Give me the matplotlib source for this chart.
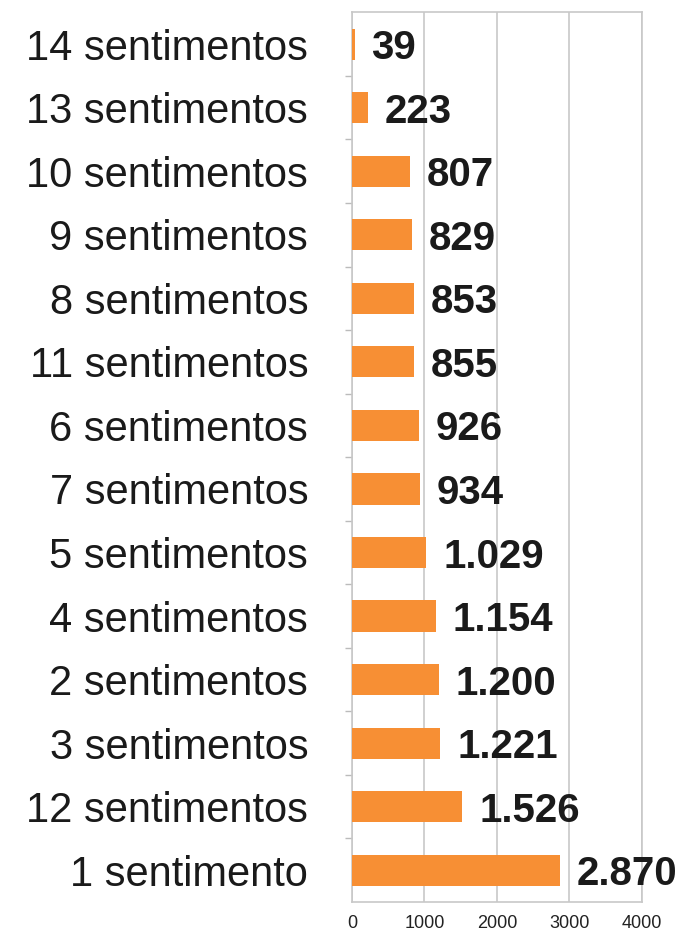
import matplotlib
matplotlib.use("Agg")
import matplotlib.pyplot as plt

categories = ["14 sentimentos", "13 sentimentos", "10 sentimentos", "9 sentimentos",
              "8 sentimentos", "11 sentimentos", "6 sentimentos", "7 sentimentos",
              "5 sentimentos", "4 sentimentos", "2 sentimentos", "3 sentimentos",
              "12 sentimentos", "1 sentimento"]
values = [39, 223, 807, 829, 853, 855, 926, 934, 1029, 1154, 1200, 1221, 1526, 2870]
value_labels = ["39", "223", "807", "829", "853", "855", "926", "934", "1.029",
                "1.154", "1.200", "1.221", "1.526", "2.870"]
xticks = [0, 1000, 2000, 3000, 4000]

plt.rcParams['font.family'] = ['Liberation Sans', 'DejaVu Sans']

fig = plt.figure(figsize=(6.82, 9.49), dpi=100)
ax = fig.add_axes([0.516, 0.0495, 0.425, 0.9375])

ypos = list(range(len(categories)))
ax.barh(ypos, values, height=0.49, color="#F78F34", zorder=3)
ax.set_ylim(len(categories) - 0.5, -0.5)
ax.set_xlim(0, 4000)
ax.set_xticks(xticks)
ax.set_xticklabels([str(t) for t in xticks], fontsize=13)
ax.set_yticks(ypos)
ax.set_yticklabels(categories, fontsize=30, color="#1a1a1a")
ax.set_yticks([p + 0.5 for p in ypos[:-1]], minor=True)
ax.tick_params(axis='y', which='major', length=0, pad=31.5)
ax.tick_params(axis='y', which='minor', length=5, color="#bbbbbb", width=1)
ax.tick_params(axis='x', length=0, pad=9, colors="#222222")
ax.grid(axis='x', color="#c8c8c8", linewidth=1.2, zorder=0)
for s in ax.spines.values():
    s.set_color("#c8c8c8")
    s.set_linewidth(1.2)

for y, v, lab in zip(ypos, values, value_labels):
    ax.annotate(lab, xy=(v, y), xytext=(12, 0), textcoords='offset points',
                va='center_baseline', ha='left', fontsize=29, fontweight='bold',
                color="#1a1a1a", zorder=4, annotation_clip=False)

fig.savefig("out.png", dpi=100)
